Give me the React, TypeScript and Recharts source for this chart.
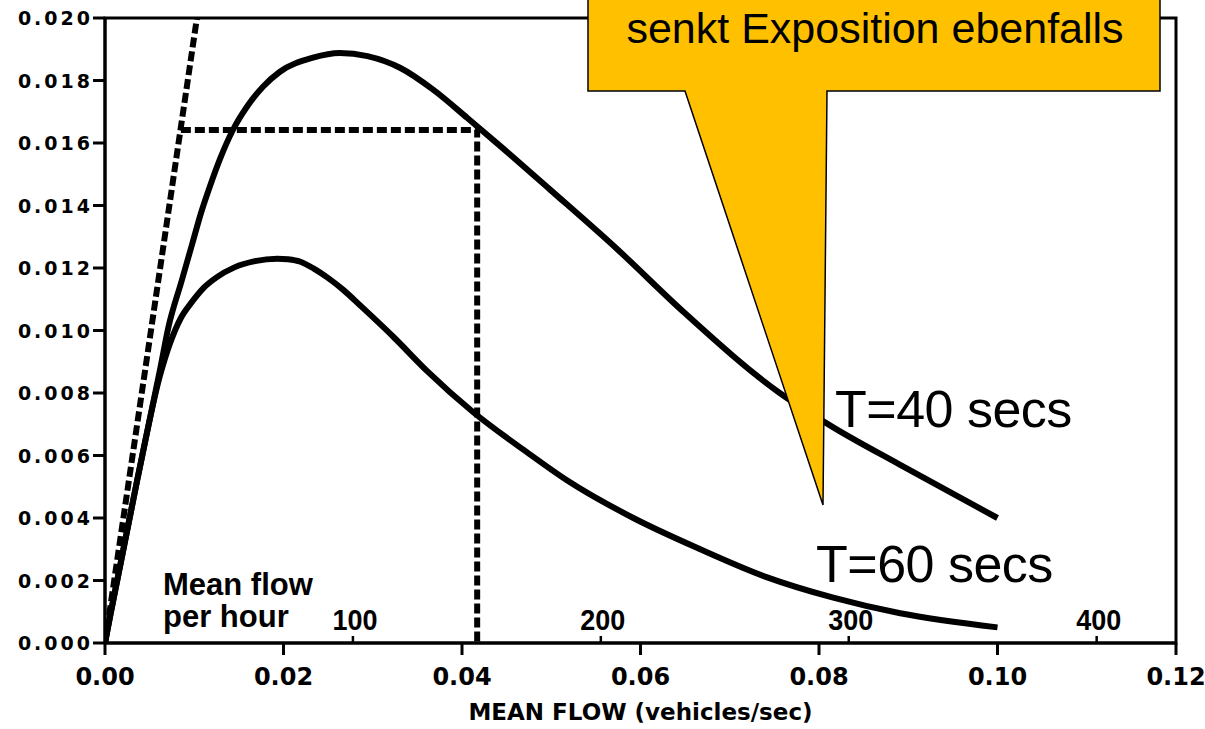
import { LineChart, Line, XAxis, YAxis, ReferenceArea, ReferenceDot } from 'recharts';

// exposure vs mean flow
const t40Flow = [0, 0.0006, 0.0036, 0.0062, 0.0071, 0.0086, 0.0098, 0.0108, 0.0118, 0.0129, 0.0143, 0.016, 0.0177, 0.0196, 0.0233, 0.0263, 0.0294, 0.0331, 0.0368, 0.0406, 0.0443, 0.0499, 0.0574, 0.0648, 0.0756, 0.0816, 0.0891, 0.1];
const t40Exposure = [0, 0.0009, 0.0052, 0.0088, 0.0101, 0.0116, 0.0128, 0.0138, 0.01465, 0.0155, 0.0164, 0.0172, 0.0178, 0.01828, 0.01873, 0.01888, 0.01878, 0.0184, 0.0177, 0.0168, 0.0159, 0.0145, 0.0126, 0.0106, 0.008, 0.0069, 0.0057, 0.004];

const t60Flow = [0, 0.0006, 0.0036, 0.0062, 0.0073, 0.0085, 0.0097, 0.011, 0.0125, 0.0145, 0.0168, 0.0193, 0.0205, 0.0219, 0.0234, 0.0249, 0.0267, 0.0286, 0.0323, 0.0361, 0.0412, 0.0473, 0.0518, 0.0592, 0.0667, 0.0742, 0.0816, 0.0891, 0.1];
const t60Exposure = [0, 0.0009, 0.0052, 0.0086, 0.0096, 0.0104, 0.0109, 0.01135, 0.0117, 0.01202, 0.01222, 0.0123, 0.01228, 0.0122, 0.01198, 0.0117, 0.0113, 0.0108, 0.0098, 0.0087, 0.0074, 0.0061, 0.0052, 0.004, 0.003, 0.0021, 0.00145, 0.00095, 0.0005];

// dashed construction lines
const tangentFlow = [0, 0.0103];
const tangentExposure = [0, 0.02];
const markerFlow = [0.0085, 0.0417, 0.0417];
const markerExposure = [0.01642, 0.01642, 0];

const flowTicks = [0, 0.02, 0.04, 0.06, 0.08, 0.1, 0.12];
const exposureTicks = [0, 0.002, 0.004, 0.006, 0.008, 0.01, 0.012, 0.014, 0.016, 0.018, 0.02];
const hourTicks = [100, 200, 300, 400];

const zip = (xs: number[], ys: number[]) => xs.map((x, i) => ({ flow: x, exposure: ys[i] }));

const t40Data = zip(t40Flow, t40Exposure);
const t60Data = zip(t60Flow, t60Exposure);
const tangentData = zip(tangentFlow, tangentExposure);
const markerData = zip(markerFlow, markerExposure);

const axisFont = '"DejaVu Sans", sans-serif';
const labelFont = '"Liberation Sans", Arial, sans-serif';

const YTick = (props: any) => {
  const { x, y, payload } = props;
  return (
    <text x={x} y={y} dy={7} textAnchor="end" fontFamily={axisFont} fontWeight="bold" fontSize={19} letterSpacing={3} fill="#000">
      {payload.value.toFixed(3)}
    </text>
  );
};

const XTick = (props: any) => {
  const { x, y, payload } = props;
  return (
    <text x={x} y={y} dy={30} textAnchor="middle" fontFamily={axisFont} fontWeight="bold" fontSize={24} fill="#000">
      {payload.value.toFixed(2)}
    </text>
  );
};

// vehicles per hour marks, drawn as small upward ticks on the flow axis
const hourMark = (label: number) => (props: any) => {
  const { cx, cy } = props;
  return (
    <g>
      <line x1={cx} y1={cy} x2={cx} y2={cy - 7} stroke="#000" strokeWidth={2.5} />
      <text
        transform={`translate(${cx + 2},${cy - 13}) scale(1,1.12)`}
        textAnchor="middle"
        fontFamily={labelFont}
        fontWeight="bold"
        fontSize={27}
        fill="#000"
      >
        {label}
      </text>
    </g>
  );
};

const Overlay = () => (
  <svg width={1205} height={729} style={{ position: 'absolute', left: 0, top: 0, pointerEvents: 'none' }}>
    <polygon
      points="588,-2 1160,-2 1160,91 827,91 823,505 685,91 588,91"
      fill="#FFC000"
      stroke="#000"
      strokeWidth={1.5}
    />
    <text x={875} y={43} textAnchor="middle" fontFamily={labelFont} fontSize={43} fill="#000">
      senkt Exposition ebenfalls
    </text>
    <text x={835} y={427} fontFamily={labelFont} fontSize={52} letterSpacing={-0.5} fill="#000">
      T=40 secs
    </text>
    <text x={816} y={582} fontFamily={labelFont} fontSize={52} letterSpacing={-0.5} fill="#000">
      T=60 secs
    </text>
    <text x={163} y={595} fontFamily={labelFont} fontWeight="bold" fontSize={31} fill="#000">
      Mean flow
    </text>
    <text x={163} y={627} fontFamily={labelFont} fontWeight="bold" fontSize={31} fill="#000">
      per hour
    </text>
  </svg>
);

export default function App() {
  return (
    <div style={{ position: 'absolute', left: 0, top: 0, width: 1205, height: 729, background: '#fff' }}>
      <LineChart width={1205} height={729} margin={{ top: 18, right: 29, bottom: 6, left: 10 }}>
        <XAxis
          dataKey="flow"
          type="number"
          domain={[0, 0.12]}
          ticks={flowTicks}
          allowDataOverflow
          height={80}
          tickSize={12}
          tickMargin={0}
          axisLine={{ stroke: '#000', strokeWidth: 3 }}
          tickLine={{ stroke: '#000', strokeWidth: 3 }}
          tick={<XTick />}
          label={{
            value: 'MEAN FLOW (vehicles/sec)',
            position: 'insideBottom',
            offset: 3,
            style: { fontFamily: axisFont, fontWeight: 'bold', fontSize: 23, fill: '#000' },
          }}
        />
        <YAxis
          type="number"
          domain={[0, 0.02]}
          ticks={exposureTicks}
          allowDataOverflow
          width={95}
          tickSize={12}
          tickMargin={0}
          axisLine={{ stroke: '#000', strokeWidth: 3 }}
          tickLine={{ stroke: '#000', strokeWidth: 3 }}
          tick={<YTick />}
        />
        <ReferenceArea x1={0} x2={0.12} y1={0} y2={0.02} fill="none" stroke="#000" strokeWidth={3} ifOverflow="visible" />
        {hourTicks.map((h) => (
          <ReferenceDot key={h} x={h / 3600} y={0} r={0} ifOverflow="visible" shape={hourMark(h)} />
        ))}
        <Line data={tangentData} dataKey="exposure" type="linear" stroke="#000" strokeWidth={6} strokeDasharray="10 4" dot={false} isAnimationActive={false} />
        <Line data={markerData} dataKey="exposure" type="linear" stroke="#000" strokeWidth={6} strokeDasharray="10 4" dot={false} isAnimationActive={false} />
        <Line data={t40Data} dataKey="exposure" type="monotone" stroke="#000" strokeWidth={6} dot={false} isAnimationActive={false} />
        <Line data={t60Data} dataKey="exposure" type="monotone" stroke="#000" strokeWidth={6} dot={false} isAnimationActive={false} />
      </LineChart>
      <Overlay />
    </div>
  );
}
